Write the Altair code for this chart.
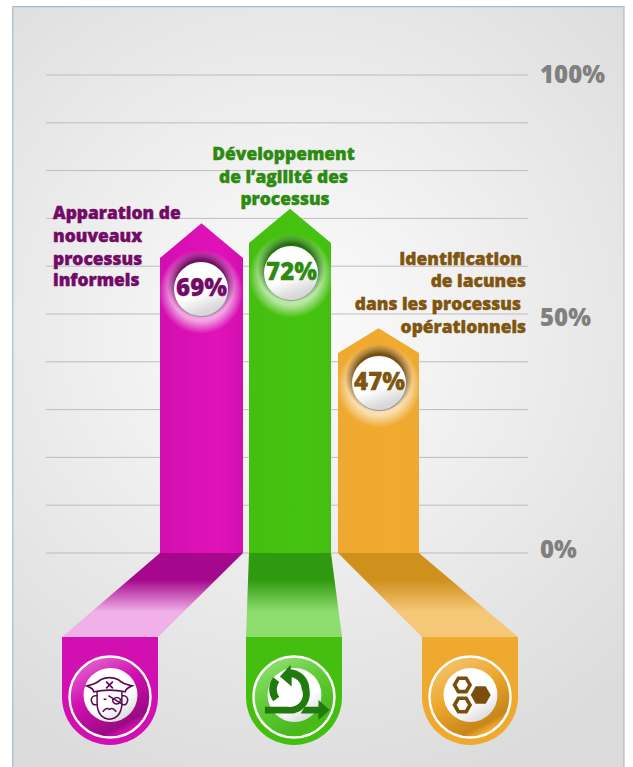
import altair as alt
import pandas as pd

# Survey results
categories = ["Apparation de nouveaux processus informels",
              "Développement de l’agilité des processus",
              "Identification de lacunes dans les processus opérationnels"]
values = [69, 72, 47]
value_labels = ["69%", "72%", "47%"]
tick_values = [0, 10, 20, 30, 40, 50, 60, 70, 80, 90, 100]
tick_labels = ["100%", "50%", "0%"]
tick_label_rows = [99.8, 49.0, 0.4]

# Wrapped category captions, one entry per printed line
caption_lines = [
    ["Apparation de", "nouveaux", "processus", "informels"],
    ["Développement", "de l’agilité des", "processus"],
    ["Identification", "de lacunes", "dans les processus", "opérationnels"],
]
caption_rows = [
    [70.9, 66.2, 61.4, 56.8],
    [83.3, 78.5, 73.8],
    [61.3, 56.6, 51.8, 47.1],
]
caption_x = [
    [53, 53, 53, 53],
    [283.5, 283.5, 285],
    [522, 526, 521, 526],
]
caption_align = ["left", "center", "right"]

# Palette for each column
main_color = ["#d20fb0", "#44bf10", "#efa92f"]
main_light = ["#e012b8", "#46c210", "#f0aa30"]
ink_color = ["#720a66", "#2d8a10", "#7f5510"]
ribbon_dark = ["#a5088c", "#2f9a10", "#d0901c"]
ribbon_pale = ["#f0b0e8", "#8fdc6f", "#f5c878"]
halo_dark = ["#6d0760", "#1f6a0a", "#6f4a0c"]
badge_light = ["#e77fd8", "#9be680", "#f6cb80"]
badge_mid = ["#d20fb0", "#62cc38", "#efa92f"]
badge_dark = ["#9a0a84", "#48b81c", "#c8861a"]

# Layout, in the units of the two scales
bar_left = [160, 249, 338]
bar_right = [243, 331, 419]
bar_shoulder = [61.7, 64.85, 41.84]
bubble_x = [201, 291, 379]
bubble_row = [55.23, 58.58, 35.56]
ribbon_left = [62, 246, 422]
ribbon_right = [158, 342, 518]
ribbon_row = -17.57
tab_row = -30.13
icon_row = -29.7
UNIT = 4.78  # pixels per percentage point

X_SCALE = alt.Scale(domain=[0, 633], nice=False, zero=False)
Y_SCALE = alt.Scale(domain=[-44.77, 115.69], nice=False, zero=False)

PIRATE_HAT = ("M-1 -.53 Q-.6 -.62 -.4 -.8 Q0 -1 .4 -.8 Q.6 -.62 1 -.53 Q.72 -.42 .7 -.27 "
              "Q0 -.42 -.7 -.27 Q-.72 -.42 -1 -.53Z "
              "M-.15 -.72 L.15 -.42 M.15 -.72 L-.15 -.42")
PIRATE_FACE = ("M-.55 -.3 L-.55 .3 Q-.5 .9 0 .95 Q.5 .9 .55 .3 L.55 -.3 "
               "M-.55 -.1 Q-.85 -.1 -.8 .15 Q-.75 .35 -.55 .3 "
               "M.55 -.1 Q.85 -.1 .8 .15 Q.75 .35 .55 .3 "
               "M-.3 .62 Q-.15 .4 0 .52 Q.15 .4 .3 .62 "
               "M-.05 -.1 L.6 .3 "
               "M.14 .08 Q.3 -.1 .48 .05 Q.5 .25 .32 .27 Q.14 .25 .14 .08Z "
               "M-.26 .06 L-.14 .06")
CYCLE = ("M-.95 .4 L-.25 .4 A.37 .37 0 0 0 .15 -.12 A.37 .37 0 0 0 -.15 -.48 L-.15 -.2 "
         "L-.5 -.5 L-.18 -.85 L-.18 -.72 A.6 .6 0 0 1 .38 -.12 A.6 .6 0 0 1 -.1 .6 L-.95 .6Z "
         "M-.7 -.48 A.6 .6 0 0 0 -.7 .24 L-.52 .1 A.37 .37 0 0 1 -.52 -.34Z")
CYCLE_ARROW = "M.24 .4 L.65 .4 L.65 .2 L.98 .5 L.65 .8 L.65 .6 L.12 .6Z"
HEXAGON = "M-1 0 L-.5 -.866 L.5 -.866 L1 0 L.5 .866 L-.5 .866Z"


def linear(stops, x2=0, y2=1):
    return {"gradient": "linear", "x1": 0, "y1": 0, "x2": x2, "y2": y2,
            "stops": [{"offset": o, "color": c} for o, c in stops]}


def radial(stops, x=0.5, y=0.5, r=0.5):
    return {"gradient": "radial", "x1": x, "y1": y, "r1": 0, "x2": x, "y2": y, "r2": r,
            "stops": [{"offset": o, "color": c} for o, c in stops]}


def rgba(hex_color, alpha):
    r, g, b = (int(hex_color[i:i + 2], 16) for i in (1, 3, 5))
    return f"rgba({r},{g},{b},{alpha})"


def enc_x(field="x"):
    return alt.X(f"{field}:Q", scale=X_SCALE, axis=None)


def enc_y(field="y"):
    return alt.Y(f"{field}:Q", scale=Y_SCALE, axis=None)


def dot(x, y, diameter, **style):
    """A disc of the given pixel diameter centred on a data position."""
    style.setdefault("opacity", 1)
    return alt.Chart(pd.DataFrame({"x": [x], "y": [y]})).mark_circle(
        size=diameter ** 2, **style).encode(x=enc_x(), y=enc_y())


def glyph(x, y, diameter, shape, **style):
    """A custom symbol path scaled to the given pixel span."""
    style.setdefault("opacity", 1)
    return alt.Chart(pd.DataFrame({"x": [x], "y": [y]})).mark_point(
        shape=shape, size=diameter ** 2, **style).encode(x=enc_x(), y=enc_y())


def box(x, x2, y, y2, **style):
    return alt.Chart(pd.DataFrame({"x": [x], "x2": [x2], "y": [y], "y2": [y2]})).mark_rect(
        **style).encode(x=enc_x(), x2="x2:Q", y=enc_y(), y2="y2:Q")


layers = []

# Panel with its soft central highlight; it runs off the lower edge
layers.append(box(12.7, 624, 114.3, -46,
                  fill=radial([(0, "#fbfbfb"), (0.3, "#f3f3f3"), (1, "#dcdcdc")],
                              x=0.47, y=0.42, r=0.62),
                  stroke="#a9bccb", strokeWidth=1.2))

# Horizontal rules every ten points
layers.append(alt.Chart(pd.DataFrame({"y": tick_values, "x": 46, "x2": 528})).mark_rule(
    color="#bdbdbd", strokeWidth=1).encode(x=enc_x(), x2="x2:Q", y=enc_y()))

# Percent scale down the right side
layers.append(alt.Chart(pd.DataFrame({"y": tick_label_rows, "t": tick_labels, "x": 540})).mark_text(
    align="left", baseline="middle", font="Open Sans", fontWeight=800, fontSize=24,
    color="#808080").encode(x=enc_x(), y=enc_y(), text="t:N"))

for i, value in enumerate(values):
    # Folded ribbon between the column foot and the tab
    ribbon = pd.DataFrame({"y": [0, ribbon_row],
                           "x": [bar_left[i], ribbon_left[i]],
                           "x2": [bar_right[i], ribbon_right[i]]})
    layers.append(alt.Chart(ribbon).mark_area(
        orient="horizontal", interpolate="linear", opacity=1,
        color=linear([(0, ribbon_dark[i]), (0.32, ribbon_dark[i]),
                      (0.7, ribbon_pale[i]), (1, ribbon_pale[i])])
    ).encode(y=enc_y(), x=enc_x(), x2="x2:Q"))

    # Rounded tab with its badge
    tab_x = (ribbon_left[i] + ribbon_right[i]) / 2
    layers.append(box(ribbon_left[i], ribbon_right[i], ribbon_row, tab_row, fill=main_color[i]))
    layers.append(dot(tab_x, tab_row, 96, fill=main_color[i]))
    layers.append(dot(tab_x, tab_row, 81,
                      fill=linear([(0, badge_light[i]), (0.5, badge_mid[i]), (0.92, badge_dark[i]),
                                   (1, main_color[i])],
                                  x2=0.55, y2=1),
                      stroke="#ffffff", strokeWidth=2.4))
    layers.append(dot(tab_x + 0.5, icon_row, 54,
                      fill=linear([(0, "#ffffff"), (0.72, "#ffffff"), (1, "#dedede")], x2=0.6, y2=1)))

    # Arrow-headed column whose tip sits at the value
    arrow = pd.DataFrame({"x": [bar_left[i], (bar_left[i] + bar_right[i]) / 2, bar_right[i]],
                          "y": [bar_shoulder[i], value, bar_shoulder[i]],
                          "y2": [0, 0, 0]})
    layers.append(alt.Chart(arrow).mark_area(
        orient="vertical", interpolate="linear", opacity=1,
        color=linear([(0, main_color[i]), (0.7, main_light[i]), (1, main_color[i])], x2=1, y2=0)
    ).encode(x=enc_x(), y=enc_y(), y2="y2:Q"))

    # Glow, shadow crescent and glossy bubble
    cx, cy = bubble_x[i], bubble_row[i]
    layers.append(dot(cx, cy - 0.6, 84,
                      fill=radial([(0, "rgba(255,255,255,0.65)"), (0.7, "rgba(255,255,255,0.62)"),
                                   (1, "rgba(255,255,255,0)")])))
    layers.append(dot(cx, cy + 5 / UNIT, 68,
                      fill=radial([(0, halo_dark[i]), (0.72, rgba(halo_dark[i], 0.95)),
                                   (1, rgba(halo_dark[i], 0))])))
    layers.append(dot(cx + 0.4, cy - 1.4 / UNIT, 53, fill="#9a9a9a"))
    layers.append(dot(cx, cy, 54,
                      fill=linear([(0, "#ffffff"), (0.68, "#ffffff"), (0.88, "#e6e6e6"),
                                   (1, "#d8d8d8")], x2=0.35, y2=1)))

    # Value inside the bubble
    layers.append(alt.Chart(pd.DataFrame({"x": [cx + 0.5], "y": [cy + 0.1], "t": [value_labels[i]]})).mark_text(
        align="center", baseline="middle", font="Open Sans", fontWeight=800, fontSize=24,
        color=ink_color[i], stroke=ink_color[i], strokeWidth=0.3
    ).encode(x=enc_x(), y=enc_y(), text="t:N"))

    # Wrapped caption
    caption = pd.DataFrame({"x": caption_x[i], "y": caption_rows[i], "t": caption_lines[i]})
    layers.append(alt.Chart(caption).mark_text(
        align=caption_align[i], baseline="middle", font="Open Sans", fontWeight=800, fontSize=17.4,
        color=ink_color[i], stroke=ink_color[i], strokeWidth=0.45
    ).encode(x=enc_x(), y=enc_y(), text="t:N"))

# Column icons
layers.append(glyph(109.5, -30.3, 45, PIRATE_HAT, filled=False, stroke="#5e0a55", strokeWidth=1.7))
layers.append(glyph(109.5, -30.3, 45, PIRATE_FACE, filled=False, stroke="#5e0a55", strokeWidth=1.5))
layers.append(glyph(296.7, -29.35, 67, CYCLE, filled=True, fill="#217a0c", strokeWidth=0))
layers.append(glyph(296.7, -29.35, 67, CYCLE_ARROW, filled=True, fill="#217a0c", strokeWidth=0))
layers.append(glyph(462.3, -27.6, 15.5, HEXAGON, filled=False, stroke="#7a4f0c", strokeWidth=3.6))
layers.append(glyph(462.3, -31.8, 15.5, HEXAGON, filled=False, stroke="#7a4f0c", strokeWidth=3.6))
layers.append(glyph(480.7, -29.7, 20, HEXAGON, filled=True, fill="#7a4f0c", strokeWidth=0))

chart = alt.layer(*layers).properties(
    width=633, height=767, padding=0, background="#ffffff",
    autosize=alt.AutoSizeParams(type="none"),
).configure_view(stroke=None)

chart.save("out.html", embed_options={"renderer": "svg", "actions": False})
